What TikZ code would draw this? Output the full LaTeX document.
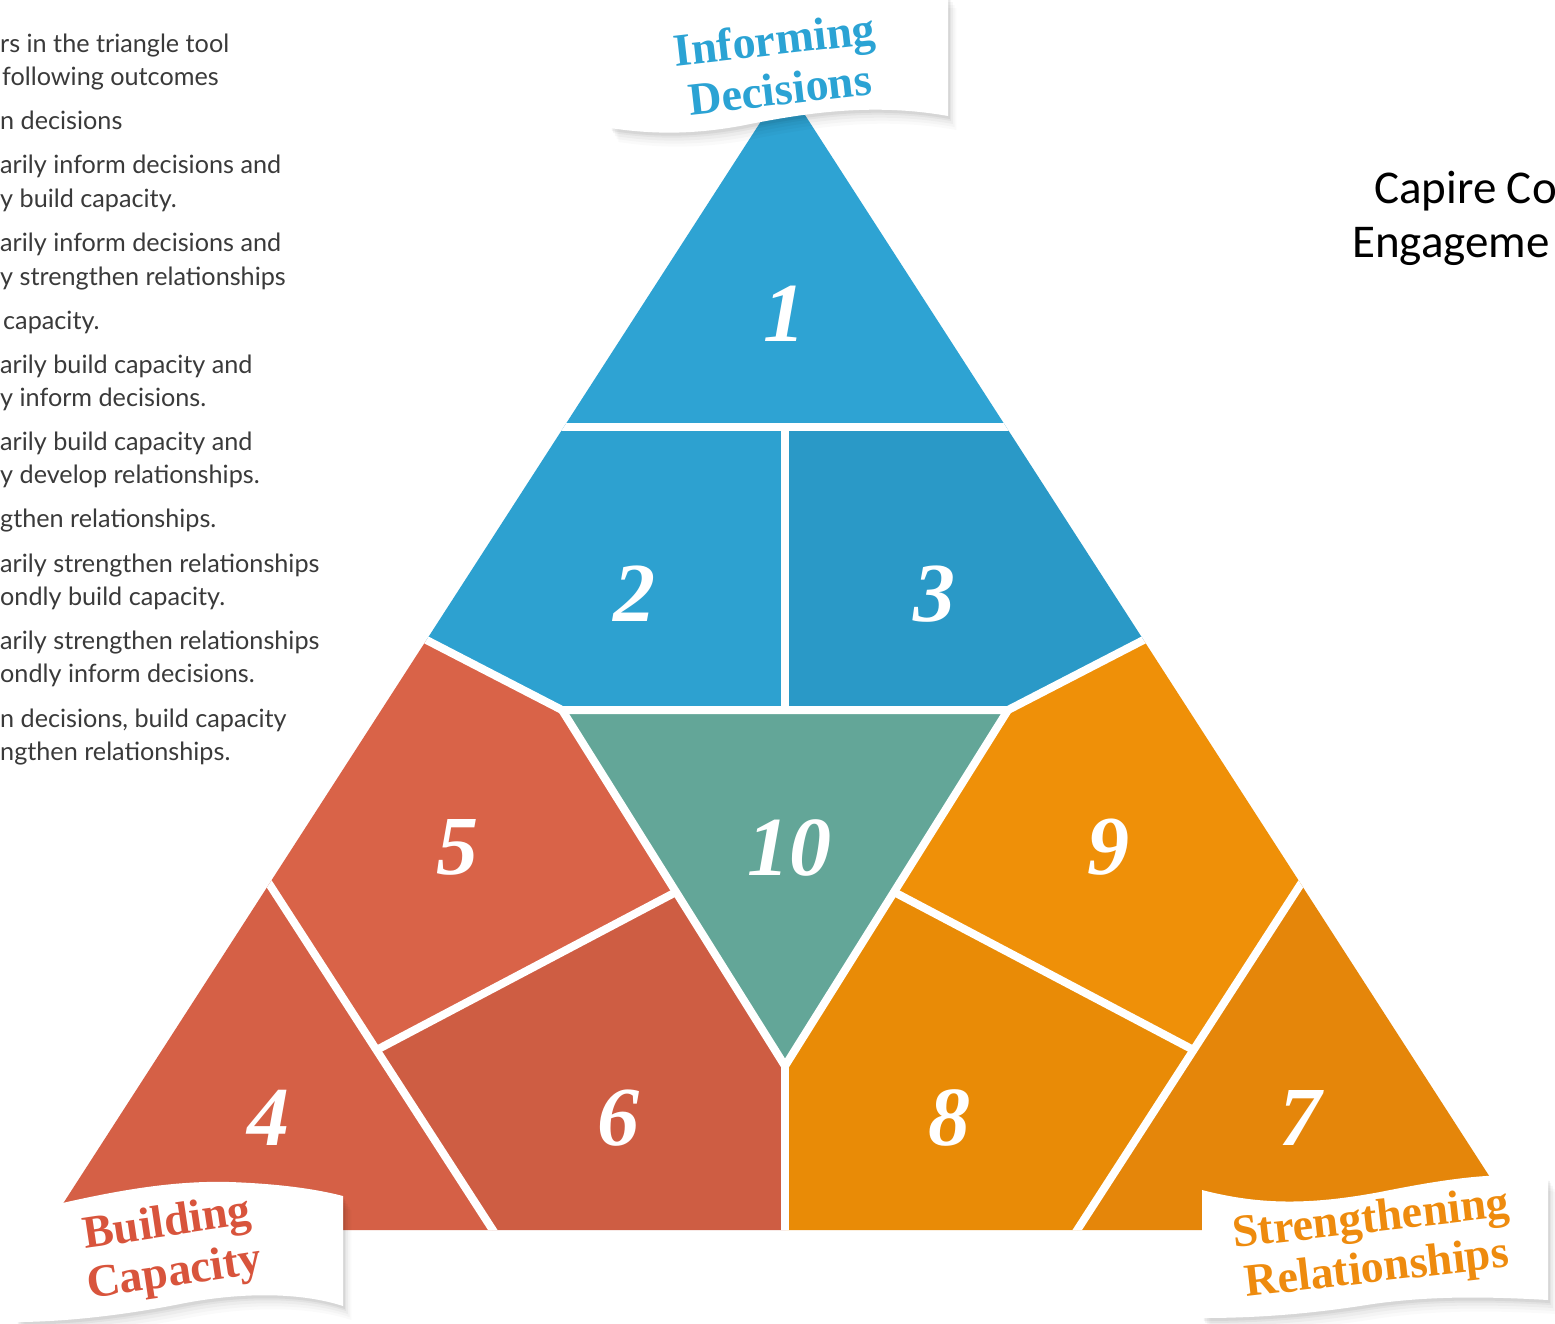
\documentclass[tikz,border=0pt]{standalone}
\usepackage{fontspec}
\setmainfont{Liberation Serif}
\newfontfamily\latofont{Lato}
\newfontfamily\carlitofont{Carlito}
\definecolor{cbA}{RGB}{46,163,211}
\definecolor{cbB}{RGB}{45,161,208}
\definecolor{cbC}{RGB}{42,153,199}
\definecolor{tealX}{RGB}{99,166,152}
\definecolor{redA}{RGB}{213,96,70}
\definecolor{redB}{RGB}{217,99,72}
\definecolor{redC}{RGB}{206,93,67}
\definecolor{orA}{RGB}{229,134,10}
\definecolor{orB}{RGB}{233,139,6}
\definecolor{orC}{RGB}{239,144,8}
\definecolor{txtblue}{RGB}{43,163,212}
\definecolor{txtred}{RGB}{216,84,60}
\definecolor{txtor}{RGB}{238,139,14}
\definecolor{lgray}{RGB}{58,58,58}
\tikzset{
  sepline/.style={white, line width=8pt},
  numlab/.style={text=white, font=\bfseries\itshape\fontsize{84}{84}\selectfont, inner sep=0pt, anchor=center},
  bantext/.style={font=\bfseries\fontsize{46}{50}\selectfont, inner sep=0pt, align=center, anchor=center},
  lefttext/.style={font=\latofont\fontsize{25.2}{30}\selectfont, text=lgray, anchor=base west, inner sep=0pt},
  righttext/.style={font=\carlitofont\fontsize{47}{50}\selectfont, text=black, anchor=base west, inner sep=0pt},
}
\def\topban{(610,30) .. controls (700,8) and (820,-6) .. (948,-6) -- (948,116) .. controls (870,102) and (800,114) .. (740,126) .. controls (690,135) and (650,134) .. (610,128) -- cycle}
\def\leftban{(16,1214) .. controls (90,1196) and (160,1180) .. (230,1182) .. controls (285,1184) and (320,1190) .. (343,1196) -- (343,1306) .. controls (300,1292) and (240,1292) .. (180,1304) .. controls (120,1316) and (60,1322) .. (16,1322) -- cycle}
\def\rightban{(1202,1190) .. controls (1260,1205) and (1310,1205) .. (1380,1192) .. controls (1440,1180) and (1500,1170) .. (1548,1178) -- (1548,1300) .. controls (1480,1296) and (1420,1296) .. (1360,1306) .. controls (1300,1315) and (1250,1318) .. (1202,1318) -- cycle}
\begin{document}
\begin{tikzpicture}[x=1pt,y=-1pt]
\useasboundingbox (0,0) rectangle (1555,1323);
\fill[white] (0,0) rectangle (1555,1323);

% left text
\node[lefttext] (l1) at (0,52) {rs in the triangle tool};
\node[lefttext] (l2) at (2,85) {following outcomes};
\node[lefttext] (l3) at (0,129) {n decisions};
\node[lefttext] (l4) at (0,173) {arily inform decisions and};
\node[lefttext] (l5) at (0,207) {y build capacity.};
\node[lefttext] (l6) at (0,251) {arily inform decisions and};
\node[lefttext] (l7) at (0,285) {y strengthen relationships};
\node[lefttext] (l8) at (3,329) {capacity.};
\node[lefttext] (l9) at (0,373) {arily build capacity and};
\node[lefttext] (l10) at (0,406) {y inform decisions.};
\node[lefttext] (l11) at (0,450) {arily build capacity and};
\node[lefttext] (l12) at (0,483) {y develop relationships.};
\node[lefttext] (l13) at (0,527) {gthen relationships.};
\node[lefttext] (l14) at (0,572) {arily strengthen relationships};
\node[lefttext] (l15) at (0,605) {ondly build capacity.};
\node[lefttext] (l16) at (0,649) {arily strengthen relationships};
\node[lefttext] (l17) at (0,682) {ondly inform decisions.};
\node[lefttext] (l18) at (0,727) {n decisions, build capacity};
\node[lefttext] (l19) at (0,760) {ngthen relationships.};

% right text
\node[righttext] (r1) at (1374,203) {Capire Co};
\node[righttext] (r2) at (1352,257) {Engageme};

% triangle regions
\begin{scope}
\clip (785,84) -- (46,1230) -- (1524,1230) -- cycle;
\fill[cbA] (0,0) rectangle (1570,427);
\fill[cbB] (380,427) -- (785,427) -- (785,710) -- (562,710) -- (380,616) -- cycle;
\fill[cbC] (785,427) -- (1190,427) -- (1190,616) -- (1008,710) -- (785,710) -- cycle;
\fill[tealX] (562,710) -- (1008,710) -- (785,1066) -- cycle;
\fill[redB] (380,616) -- (562,710) -- (676,892) -- (376.5,1050) -- (215,800) -- (200,616) -- cycle;
\fill[redA] (215,800) -- (538,1300) -- (0,1300) -- (0,800) -- cycle;
\fill[redC] (376.5,1050) -- (676,892) -- (785,1066) -- (785,1300) -- (538,1300) -- cycle;
\fill[orC] (1190,616) -- (1008,710) -- (894,892) -- (1193.5,1050) -- (1355,800) -- (1370,616) -- cycle;
\fill[orA] (1355,800) -- (1032,1300) -- (1570,1300) -- (1570,800) -- cycle;
\fill[orB] (1193.5,1050) -- (894,892) -- (785,1066) -- (785,1300) -- (1032,1300) -- cycle;
\draw[sepline] (300,427) -- (1270,427);
\draw[sepline] (785,427) -- (785,710);
\draw[sepline] (380,616) -- (562,710) -- (1008,710) -- (1190,616);
\draw[sepline] (562,710) -- (785,1066) -- (1008,710);
\draw[sepline] (785,1066) -- (785,1300);
\draw[sepline] (215,800) -- (538,1300);
\draw[sepline] (376.5,1050) -- (676,892);
\draw[sepline] (1355,800) -- (1032,1300);
\draw[sepline] (1193.5,1050) -- (894,892);
\end{scope}

% numbers
\node[numlab] (n1) at (784,314) {1};
\node[numlab] (n2) at (634,594) {2};
\node[numlab] (n3) at (934,594) {3};
\node[numlab] (n5) at (457,847) {5};
\node[numlab] (n10) at (789,848) {10};
\node[numlab] (n9) at (1108,847) {9};
\node[numlab] (n4) at (268,1118) {4};
\node[numlab] (n6) at (618,1118) {6};
\node[numlab] (n8) at (949,1118) {8};
\node[numlab] (n7) at (1300,1118) {7};

% banners with soft shadows
\foreach \d/\op in {14/0.02,11/0.025,8/0.03,5/0.04,3/0.05} {
  \fill[black,opacity=\op,shift={(\d*0.6,\d)}] \topban;
  \fill[black,opacity=\op,shift={(\d*0.6,\d)}] \leftban;
  \fill[black,opacity=\op,shift={(\d*0.6,\d)}] \rightban;
}
\fill[white] \topban;
\fill[white] \leftban;
\fill[white] \rightban;

\node[bantext,text=txtblue,rotate=6.5] (b1) at (777,64) {Informing\\Decisions};
\node[bantext,text=txtred,rotate=8.5] (b2) at (171,1250) {Building\\Capacity};
\node[bantext,text=txtor,rotate=6.5] (b3) at (1374,1246) {Strengthening\\Relationships};
\end{tikzpicture}
\end{document}
